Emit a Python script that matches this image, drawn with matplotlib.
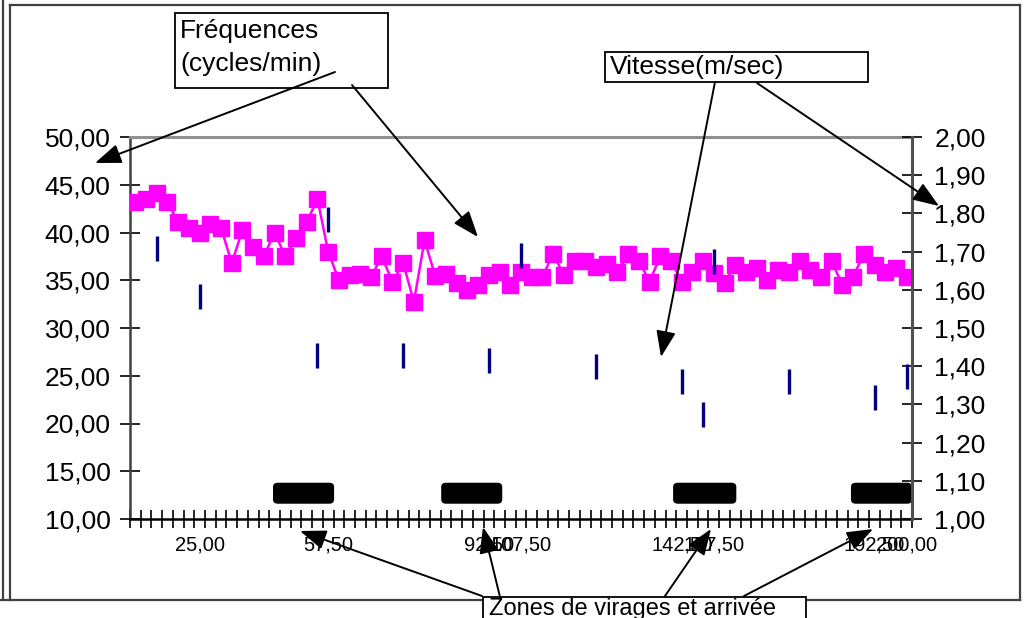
import numpy as np
import matplotlib.pyplot as plt
from matplotlib.patches import Rectangle, FancyBboxPatch
from matplotlib.lines import Line2D

plt.rcParams['font.family'] = ['Liberation Sans', 'DejaVu Sans']

# frequences (cycles/min), one value per category
freq = [43.15, 43.5, 44.1, 43.15, 41.1, 40.5, 40.0, 40.85, 40.5, 36.8,
        40.25, 38.45, 37.5, 40.0, 37.5, 39.45, 41.1, 43.5, 38.0, 35.0,
        35.5, 35.7, 35.3, 37.5, 34.85, 36.8, 32.75, 39.2, 35.4, 35.7,
        34.7, 34.0, 34.5, 35.55, 35.9, 34.5, 35.9, 35.37, 35.37, 37.75,
        35.55, 37.05, 37.05, 36.4, 36.75, 35.9, 37.75, 37.05, 34.85, 37.5,
        37.05, 34.85, 35.9, 37.05, 35.73, 34.68, 36.6, 35.9, 36.25, 35.0,
        36.07, 35.9, 37.0, 36.07, 35.37, 37.0, 34.5, 35.37, 37.7, 36.6,
        35.9, 36.25, 35.37]

# vitesse (m/sec), measured at some categories only
speed_idx = [2, 6, 17, 18, 25, 33, 36, 43, 51, 53, 54, 61, 69, 72]
speed = [1.71, 1.585, 1.43, 1.785, 1.43, 1.415, 1.69, 1.40, 1.36, 1.275,
         1.675, 1.36, 1.32, 1.375]

# category labels shown on the x axis
label_idx = [6, 18, 33, 36, 51, 54, 69, 72]
labels = ['25,00', '57,50', '92,50', '107,50', '142,50', '157,50', '192,50', '200,00']

# zones de virages (category span) and their level on the left axis
zone_start = [13.35, 29.05, 50.7, 67.3]
zone_end = [19.05, 34.75, 56.6, 73.0]
zone_level = 12.7

W, H = 1032, 618
fig = plt.figure(figsize=(W / 100, H / 100), dpi=100)

def fx(x):
    return x / W

def fy(y):
    return 1 - y / H

ax = fig.add_axes([fx(130), fy(519), (912 - 130) / W, (519 - 137) / H])
n = len(freq)
x = np.arange(n) + 0.5
ax.plot(x, freq, color='#FF00FF', lw=1.8, marker='s', ms=11, mec='#FF00FF', zorder=3)

for s, e in zip(zone_start, zone_end):
    ax.add_patch(FancyBboxPatch((s, zone_level - 1.1), e - s, 2.2,
                                boxstyle='round,pad=0,rounding_size=0.45',
                                fc='black', ec='black', lw=0, zorder=2))

ax.set_xlim(0, n)
ax.set_ylim(10, 50)
ax.set_yticks(np.arange(10, 51, 5))
ax.set_yticklabels([f'{v:.2f}'.replace('.', ',') for v in np.arange(10, 51, 5)])
ax.set_xticks(np.array(label_idx) + 0.5)
ax.set_xticklabels(labels)
ax.set_xticks(np.arange(0, n + 1), minor=True)
ax.tick_params(axis='x', which='major', length=0, labelsize=14.5, pad=12)
ax.tick_params(axis='x', which='minor', direction='inout', length=13, width=1.2)
ax.tick_params(axis='y', direction='inout', length=14, width=1.2, labelsize=19, pad=7)
ax.spines['left'].set_color('#404040')
ax.spines['left'].set_linewidth(1.8)
ax.spines['bottom'].set_color('black')
ax.spines['bottom'].set_linewidth(1.8)
ax.spines['top'].set_color('#909090')
ax.spines['top'].set_linewidth(2.2)
ax.spines['right'].set_visible(False)

ax2 = ax.twinx()
ax2.plot(np.array(speed_idx) + 0.5, speed, ls='none', marker='|', ms=18, mew=2.4,
         color='#000080')
ax2.set_ylim(1, 2)
ax2.set_yticks(np.arange(1, 2.01, 0.1))
ax2.set_yticklabels([f'{v:.2f}'.replace('.', ',') for v in np.arange(1, 2.01, 0.1)])
ax2.tick_params(axis='y', direction='inout', length=14, width=1.2, labelsize=19, pad=9)
for side in ['left', 'top', 'bottom']:
    ax2.spines[side].set_visible(False)
ax2.spines['right'].set_color('#505050')
ax2.spines['right'].set_linewidth(2.2)

# cadre
frame = [((10, 5), (1020, 5)), ((1020, 5), (1020, 600)), ((10, 600), (483, 600)),
         ((806, 600), (1020, 600)), ((10, 5), (10, 600)), ((3, 0), (3, 600)),
         ((0, 600), (10, 600))]
for (x0, y0), (x1, y1) in frame:
    fig.add_artist(Line2D([fx(x0), fx(x1)], [fy(y0), fy(y1)], color='#404040', lw=1.6))

# boites de texte
boxes = [((175, 13), (388, 88)), ((605, 52), (868, 82)), ((483, 597), (806, 640))]
for (x0, y0), (x1, y1) in boxes:
    fig.add_artist(Rectangle((fx(x0), fy(y1)), (x1 - x0) / W, (y1 - y0) / H,
                             transform=fig.transFigure, fc='white', ec='black',
                             lw=1.3, zorder=5))

fig.text(fx(180), fy(31), 'Fréquences', fontsize=19, va='center', ha='left', zorder=6)
fig.text(fx(180), fy(64), '(cycles/min)', fontsize=19, va='center', ha='left', zorder=6)
fig.text(fx(610), fy(67), 'Vitesse(m/sec)', fontsize=19, va='center', ha='left', zorder=6)
fig.text(fx(489), fy(609), 'Zones de virages et arrivée', fontsize=17, va='center',
         ha='left', zorder=6)

arrows = [((335, 72), (95, 163)), ((352, 85), (478, 237)),
          ((715, 82), (661, 357)), ((757, 83), (939, 206)),
          ((500, 597), (483, 527)), ((482, 596), (300, 531)),
          ((665, 596), (711, 529)), ((744, 596), (873, 529))]
for (x0, y0), (x1, y1) in arrows:
    fig.add_artist(plt.matplotlib.patches.FancyArrowPatch(
        (fx(x0), fy(y0)), (fx(x1), fy(y1)), transform=fig.transFigure,
        arrowstyle='-|>,head_length=0.8,head_width=0.3', mutation_scale=20,
        color='black', lw=1.4, shrinkA=0, shrinkB=0, zorder=7))

fig.savefig('out.png', dpi=100)
